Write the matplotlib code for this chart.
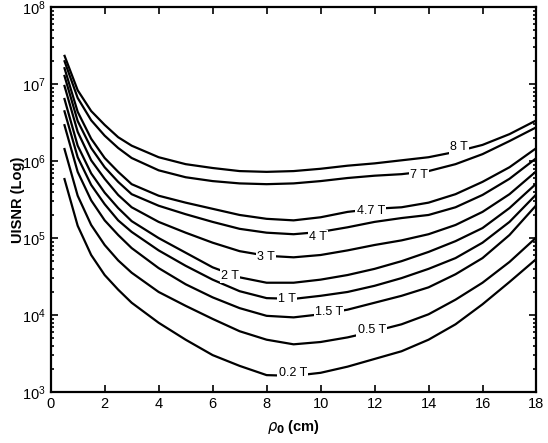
import numpy as np
import matplotlib
matplotlib.use("Agg")
import matplotlib.pyplot as plt
from matplotlib.ticker import LogLocator, NullFormatter

plt.rcParams['font.family'] = ['Liberation Sans', 'DejaVu Sans']

# rho_0 (cm) sample positions
rho = [0.5, 1, 1.5, 2, 2.5, 3, 4, 5, 6, 7, 8, 9, 10, 11, 12, 13, 14, 15, 16, 17, 18]

# log10(UISNR), one list per field strength
log_8T = [7.38, 6.92, 6.65, 6.47, 6.31, 6.20, 6.05, 5.96, 5.91, 5.87, 5.86,
          5.87, 5.90, 5.94, 5.97, 6.01, 6.05, 6.12, 6.21, 6.35, 6.53]
log_7T = [7.31, 6.82, 6.53, 6.33, 6.17, 6.04, 5.88, 5.79, 5.74, 5.71, 5.70,
          5.71, 5.74, 5.78, 5.81, 5.83, 5.87, 5.96, 6.09, 6.26, 6.44]
log_4_7T = [7.22, 6.64, 6.29, 6.04, 5.86, 5.70, 5.55, 5.46, 5.38, 5.30, 5.25,
            5.23, 5.27, 5.34, 5.38, 5.40, 5.46, 5.57, 5.73, 5.92, 6.17]
log_4T = [7.12, 6.52, 6.17, 5.92, 5.73, 5.57, 5.42, 5.31, 5.21, 5.12, 5.07,
          5.05, 5.08, 5.14, 5.21, 5.26, 5.30, 5.40, 5.56, 5.77, 6.04]
log_3T = [6.99, 6.38, 6.01, 5.77, 5.56, 5.40, 5.21, 5.07, 4.94, 4.83, 4.77,
          4.75, 4.78, 4.84, 4.91, 4.97, 5.05, 5.17, 5.34, 5.57, 5.87]
log_2T = [6.82, 6.20, 5.84, 5.59, 5.39, 5.22, 5.00, 4.81, 4.62, 4.49, 4.42,
          4.42, 4.46, 4.52, 4.60, 4.70, 4.82, 4.96, 5.13, 5.39, 5.71]
log_1T = [6.66, 6.05, 5.69, 5.44, 5.23, 5.08, 4.84, 4.64, 4.46, 4.31, 4.22,
          4.21, 4.25, 4.30, 4.38, 4.48, 4.60, 4.74, 4.94, 5.21, 5.57]
log_1_5T = [6.48, 5.86, 5.49, 5.23, 5.04, 4.87, 4.61, 4.40, 4.23, 4.09, 3.99,
            3.97, 4.01, 4.07, 4.16, 4.25, 4.36, 4.53, 4.74, 5.04, 5.43]
log_0_5T = [6.17, 5.55, 5.17, 4.91, 4.71, 4.55, 4.30, 4.12, 3.95, 3.79, 3.68,
            3.62, 3.65, 3.71, 3.79, 3.88, 4.01, 4.20, 4.42, 4.69, 5.01]
log_0_2T = [5.78, 5.16, 4.78, 4.52, 4.33, 4.16, 3.90, 3.68, 3.48, 3.34, 3.22,
            3.21, 3.25, 3.33, 3.43, 3.53, 3.68, 3.88, 4.14, 4.43, 4.73]

curves = [log_8T, log_7T, log_4_7T, log_4T, log_3T,
          log_2T, log_1T, log_1_5T, log_0_5T, log_0_2T]
labels = ['8 T', '7 T', '4.7 T', '4 T', '3 T',
          '2 T', '1 T', '1.5 T', '0.5 T', '0.2 T']
# where each inline label sits (rho, log10 UISNR)
label_pos = [(15.12, 6.18), (13.64, 5.82), (11.86, 5.35), (9.90, 5.01),
             (7.97, 4.75), (6.64, 4.51), (8.75, 4.21), (10.31, 4.04),
             (11.90, 3.81), (8.97, 3.25)]

fig = plt.figure(figsize=(5.48, 4.43), dpi=100)
ax = fig.add_axes([0.0925, 0.115, 0.8865, 0.869])

for vals in curves:
    ax.plot(rho, 10 ** np.array(vals), color='black', lw=1.6,
            solid_joinstyle='round', solid_capstyle='butt')

for lab, (lx, ly) in zip(labels, label_pos):
    ax.text(lx, 10 ** ly, lab, fontsize=9, ha='center', va='center',
            bbox=dict(facecolor='white', edgecolor='none', pad=1.0))

ax.set_yscale('log')
ax.set_xlim(0, 18)
ax.set_ylim(1e3, 1e8)
ax.set_xticks(range(0, 19, 2))
ax.yaxis.set_major_locator(LogLocator(base=10, numticks=10))
ax.yaxis.set_minor_locator(LogLocator(base=10, subs=np.arange(2, 10), numticks=10))
ax.yaxis.set_minor_formatter(NullFormatter())

ax.tick_params(which='both', direction='in', top=True, right=True,
               labelsize=10.5, width=1.2)
ax.tick_params(which='major', length=5)
ax.tick_params(which='minor', length=2.5)
for sp in ax.spines.values():
    sp.set_linewidth(1.6)

ax.set_xlabel(r'$\rho_{\mathbf{0}}$ (cm)', fontsize=10.5, fontweight='bold',
              labelpad=5)
ax.set_ylabel('UISNR (Log)', fontsize=10.5, fontweight='bold', labelpad=-2)

fig.savefig('out.png', dpi=100)
